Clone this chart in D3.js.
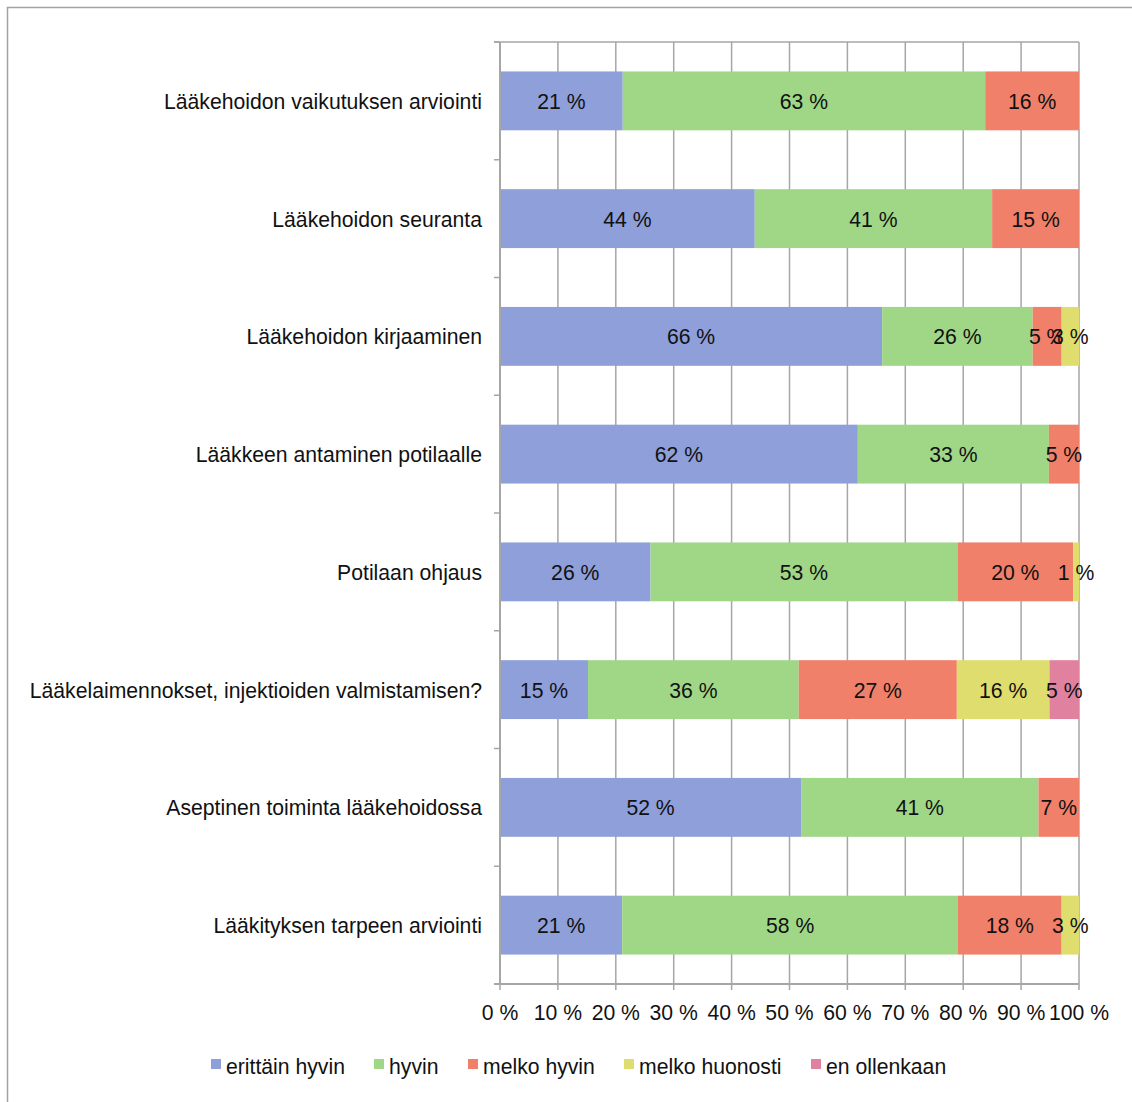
<!DOCTYPE html>
<html>
  <head>
    <meta charset="utf-8">
    <title></title>
    <script src="https://cdn.jsdelivr.net/npm/d3@7"></script>
    <style>
      body { margin: 0; background: #fff; }
      text { font-family: "Liberation Sans", Arial, sans-serif; fill: #111; }
    </style>
  </head>
  <body>
    <script type="text/javascript">

    var width = 1132,
        height = 1102;

    var fontSize = "21.2px";

    var categories = [
      "Lääkehoidon vaikutuksen arviointi",
      "Lääkehoidon seuranta",
      "Lääkehoidon kirjaaminen",
      "Lääkkeen antaminen potilaalle",
      "Potilaan ohjaus",
      "Lääkelaimennokset, injektioiden valmistamisen?",
      "Aseptinen toiminta lääkehoidossa",
      "Lääkityksen tarpeen arviointi"
    ];

    var seriesNames = ["erittäin hyvin", "hyvin", "melko hyvin", "melko huonosti", "en ollenkaan"];
    var seriesColors = ["#8e9fd9", "#a0d787", "#f08069", "#dfdd6d", "#e0819f"];

    // one array per series, same order as categories
    var erittainHyvin = [21.2, 44, 66, 61.8, 26, 15.2, 52, 21.1];
    var hyvin         = [62.6, 41, 26, 33,   53, 36.4, 41, 58];
    var melkoHyvin    = [16.2, 15,  5,  5.2, 20, 27.3,  7, 17.9];
    var melkoHuonosti = [0,     0,  3,  0,    1, 16,    0,  3];
    var enOllenkaan   = [0,     0,  0,  0,    0,  5.1,  0,  0];

    var xTicks = [0, 10, 20, 30, 40, 50, 60, 70, 80, 90, 100];

    var seriesValues = [erittainHyvin, hyvin, melkoHyvin, melkoHuonosti, enOllenkaan];

    var rows = categories.map(function(c, i) {
      var row = {category: c};
      seriesNames.forEach(function(s, j) { row[s] = seriesValues[j][i]; });
      return row;
    });

    var stacked = d3.stack().keys(seriesNames)(rows);

    var margin = {left: 500, right: 1079, top: 42, bottom: 984};

    var x = d3.scaleLinear()
        .domain([0, 100])
        .range([margin.left, margin.right]);

    var y = d3.scaleBand()
        .domain(categories)
        .range([margin.top, margin.bottom])
        .paddingInner(0.5)
        .paddingOuter(0.25);

    var svg = d3.select("body").append("svg")
        .attr("width", width)
        .attr("height", height);

    // outer chart border
    svg.append("path")
        .attr("d", "M7.5," + height + "V7.5H" + width)
        .attr("fill", "none")
        .attr("stroke", "#a3a3a3")
        .attr("stroke-width", 1.5);

    // vertical gridlines
    svg.append("g").selectAll("line")
        .data(xTicks.slice(1))
        .enter().append("line")
        .attr("x1", function(d) { return x(d); })
        .attr("x2", function(d) { return x(d); })
        .attr("y1", margin.top)
        .attr("y2", margin.bottom)
        .attr("stroke", "#a6a6a6")
        .attr("stroke-width", 1.5);

    // top line of plot
    svg.append("line")
        .attr("x1", margin.left - 6).attr("x2", margin.right)
        .attr("y1", margin.top).attr("y2", margin.top)
        .attr("stroke", "#a6a6a6").attr("stroke-width", 1.5);

    // bars
    var groups = svg.append("g").selectAll("g")
        .data(stacked)
        .enter().append("g")
        .attr("fill", function(d, i) { return seriesColors[i]; });

    groups.selectAll("rect")
        .data(function(d) { return d; })
        .enter().append("rect")
        .filter(function(d) { return d[1] - d[0] > 0; })
        .attr("x", function(d) { return x(d[0]); })
        .attr("y", function(d) { return y(d.data.category); })
        .attr("width", function(d) { return x(d[1]) - x(d[0]); })
        .attr("height", y.bandwidth());

    // bar labels
    groups.selectAll("text")
        .data(function(d) { return d; })
        .enter().append("text")
        .filter(function(d) { return d[1] - d[0] > 0; })
        .attr("x", function(d) { return (x(d[0]) + x(d[1])) / 2; })
        .attr("y", function(d) { return y(d.data.category) + y.bandwidth() / 2; })
        .attr("dy", "0.38em")
        .attr("text-anchor", "middle")
        .style("font-size", fontSize)
        .text(function(d) { return Math.round(d[1] - d[0]) + " %"; });

    // y axis
    var yAxis = svg.append("g");
    yAxis.append("line")
        .attr("x1", margin.left).attr("x2", margin.left)
        .attr("y1", margin.top).attr("y2", margin.bottom)
        .attr("stroke", "#a6a6a6").attr("stroke-width", 2);

    var step = y.step();
    yAxis.selectAll("line.tick")
        .data(d3.range(categories.length + 1))
        .enter().append("line")
        .attr("class", "tick")
        .attr("x1", margin.left - 6).attr("x2", margin.left)
        .attr("y1", function(i) { return margin.top + i * step; })
        .attr("y2", function(i) { return margin.top + i * step; })
        .attr("stroke", "#a6a6a6").attr("stroke-width", 1.5);

    yAxis.selectAll("text")
        .data(categories)
        .enter().append("text")
        .attr("x", 482)
        .attr("y", function(d) { return y(d) + y.bandwidth() / 2; })
        .attr("dy", "0.38em")
        .attr("text-anchor", "end")
        .style("font-size", fontSize)
        .text(function(d) { return d; });

    // x axis
    var xAxis = svg.append("g");
    xAxis.append("line")
        .attr("x1", margin.left - 6).attr("x2", margin.right)
        .attr("y1", margin.bottom).attr("y2", margin.bottom)
        .attr("stroke", "#a6a6a6").attr("stroke-width", 2);

    xAxis.selectAll("line.tick")
        .data(xTicks)
        .enter().append("line")
        .attr("class", "tick")
        .attr("x1", function(d) { return x(d); })
        .attr("x2", function(d) { return x(d); })
        .attr("y1", margin.bottom).attr("y2", margin.bottom + 6)
        .attr("stroke", "#a6a6a6").attr("stroke-width", 1.5);

    xAxis.selectAll("text")
        .data(xTicks)
        .enter().append("text")
        .attr("x", function(d) { return x(d); })
        .attr("y", 1012)
        .attr("dy", "0.38em")
        .attr("text-anchor", "middle")
        .style("font-size", fontSize)
        .text(function(d) { return d + " %"; });

    // legend
    var legendX = [211, 374, 468, 624, 811];
    var legend = svg.append("g").selectAll("g")
        .data(seriesNames)
        .enter().append("g")
        .attr("transform", function(d, i) { return "translate(" + legendX[i] + ",1066)"; });

    legend.append("rect")
        .attr("x", 0).attr("y", -7)
        .attr("width", 10).attr("height", 10)
        .attr("fill", function(d, i) { return seriesColors[i]; });

    legend.append("text")
        .attr("x", 15)
        .attr("y", 0)
        .attr("dy", "0.38em")
        .style("font-size", fontSize)
        .text(function(d) { return d; });

    </script>
  </body>
</html>
